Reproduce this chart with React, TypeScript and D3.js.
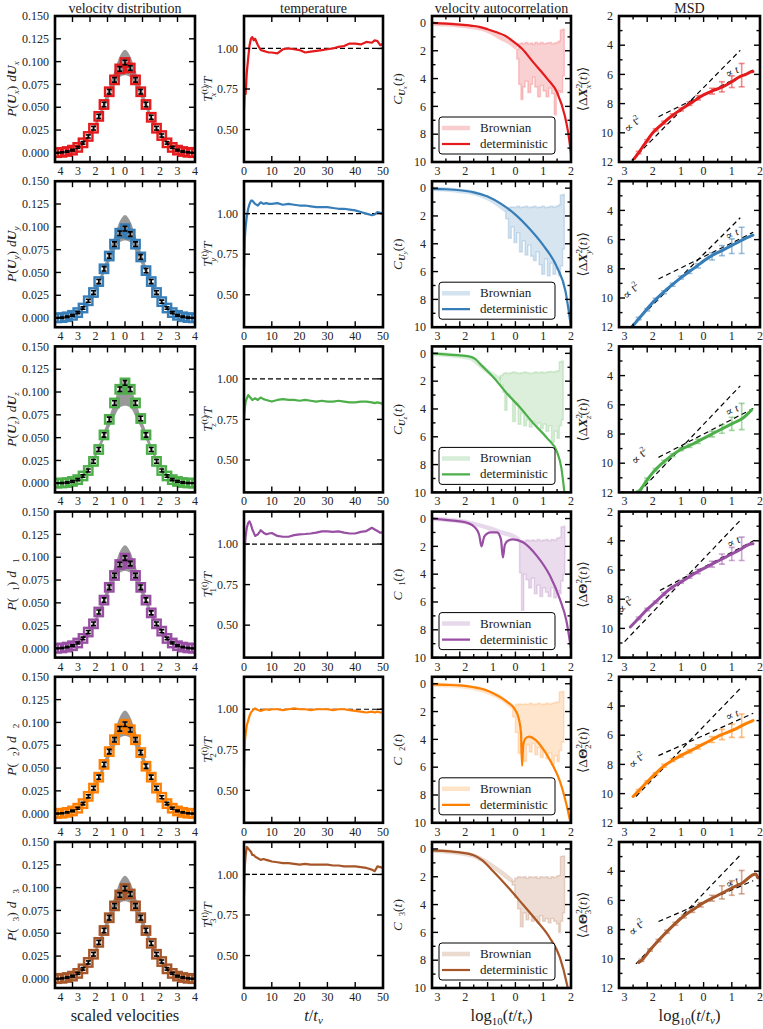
import React from "react";
import * as d3 from "d3";

const FONT = "'Liberation Serif', 'DejaVu Serif', serif";
const COLORS = ["#e41a1c", "#377eb8", "#4daf4a", "#984ea3", "#ff7f00", "#a65628"];
const ROW_KEYS = ["x", "y", "z", "1", "2", "3"];

// ---------- velocity distribution ----------
const velX = [-3.9, -3.6, -3.3, -3.0, -2.7, -2.4, -2.1, -1.8, -1.5, -1.2, -0.9, -0.6, -0.3, 0, 0.3, 0.6, 0.9, 1.2, 1.5, 1.8, 2.1, 2.4, 2.7, 3.0, 3.3, 3.6, 3.9];
const velA = [0.0002, 0.0006, 0.0015, 0.003, 0.006, 0.011, 0.018, 0.027, 0.040, 0.053, 0.067, 0.080, 0.092, 0.099, 0.093, 0.080, 0.067, 0.053, 0.039, 0.027, 0.019, 0.011, 0.006, 0.003, 0.0015, 0.0006, 0.0002];
const velB = [0.0002, 0.0005, 0.0014, 0.003, 0.006, 0.011, 0.019, 0.028, 0.040, 0.054, 0.068, 0.081, 0.093, 0.098, 0.092, 0.081, 0.067, 0.052, 0.040, 0.028, 0.018, 0.011, 0.006, 0.003, 0.0014, 0.0005, 0.0002];
const velGreen = [0.0001, 0.0003, 0.0008, 0.002, 0.004, 0.008, 0.014, 0.024, 0.037, 0.053, 0.070, 0.088, 0.103, 0.110, 0.103, 0.088, 0.071, 0.053, 0.037, 0.024, 0.014, 0.008, 0.004, 0.002, 0.0008, 0.0003, 0.0001];
const velErr = [0.0004, 0.0005, 0.0007, 0.0009, 0.0011, 0.0014, 0.0017, 0.002, 0.0022, 0.0024, 0.0025, 0.0025, 0.0025, 0.0025, 0.0025, 0.0025, 0.0025, 0.0024, 0.0022, 0.002, 0.0017, 0.0014, 0.0011, 0.0009, 0.0007, 0.0005, 0.0004];
const bandX = [-4, -3, -2.4, -2.1, -1.8, -1.5, -1.2, -0.9, -0.6, -0.3, 0, 0.3, 0.6, 0.9, 1.2, 1.5, 1.8, 2.1, 2.4, 3, 4];
const bandHi = [0.0002, 0.003, 0.011, 0.019, 0.029, 0.042, 0.057, 0.073, 0.09, 0.106, 0.113, 0.106, 0.09, 0.073, 0.057, 0.042, 0.029, 0.019, 0.011, 0.003, 0.0002];
const bandLo = [0.0001, 0.002, 0.009, 0.016, 0.024, 0.035, 0.048, 0.061, 0.073, 0.083, 0.085, 0.083, 0.073, 0.061, 0.048, 0.035, 0.024, 0.016, 0.009, 0.002, 0.0001];

// ---------- temperature ----------
const tempT = [0, 0.3, 0.6, 1, 1.5, 2, 2.5, 3, 3.5, 4, 5, 6, 7, 8, 9, 10, 12, 14, 16, 18, 20, 22, 24, 26, 28, 30, 32, 34, 36, 38, 40, 42, 44, 46, 47, 48, 49, 50];
const tempRed = [0.62, 0.76, 0.72, 0.85, 0.94, 1.02, 1.06, 1.07, 1.05, 1.06, 1.02, 0.99, 0.985, 0.98, 0.975, 0.975, 0.97, 0.995, 1.0, 0.995, 0.99, 0.975, 0.98, 0.985, 0.99, 0.995, 1.0, 1.01, 1.015, 1.03, 1.03, 1.025, 1.04, 1.035, 1.05, 1.045, 1.02, 1.03];
const tempBlue = [0.65, 0.85, 0.92, 0.98, 1.03, 1.06, 1.08, 1.08, 1.07, 1.06, 1.05, 1.07, 1.06, 1.065, 1.06, 1.06, 1.065, 1.055, 1.06, 1.055, 1.05, 1.05, 1.045, 1.04, 1.04, 1.04, 1.035, 1.03, 1.03, 1.025, 1.02, 1.01, 1.0, 0.99, 0.995, 1.01, 1.005, 1.0];
const tempGreen = [0.75, 0.82, 0.86, 0.88, 0.9, 0.89, 0.88, 0.87, 0.875, 0.88, 0.87, 0.885, 0.875, 0.87, 0.865, 0.86, 0.87, 0.875, 0.87, 0.87, 0.865, 0.87, 0.865, 0.86, 0.865, 0.86, 0.86, 0.865, 0.86, 0.855, 0.855, 0.86, 0.86, 0.855, 0.85, 0.855, 0.85, 0.845];
const tempPurple = [0.52, 0.98, 1.05, 1.1, 1.13, 1.14, 1.12, 1.09, 1.07, 1.05, 1.06, 1.085, 1.07, 1.06, 1.065, 1.068, 1.05, 1.045, 1.045, 1.055, 1.06, 1.062, 1.065, 1.07, 1.078, 1.078, 1.075, 1.078, 1.07, 1.065, 1.065, 1.075, 1.08, 1.1, 1.09, 1.08, 1.07, 1.07];
const tempOrange = [0.62, 0.8, 0.85, 0.9, 0.93, 0.96, 0.98, 0.99, 1.0, 1.005, 0.995, 0.99, 0.995, 1.0, 0.995, 1.0, 1.0, 0.995, 1.0, 1.005, 1.0, 1.0, 0.995, 1.0, 1.0, 1.0, 0.995, 1.0, 1.0, 0.995, 0.99, 0.985, 0.98, 0.985, 0.98, 0.985, 0.98, 0.98];
const tempBrown = [0.86, 1.05, 1.12, 1.17, 1.16, 1.15, 1.14, 1.12, 1.12, 1.11, 1.1, 1.09, 1.095, 1.09, 1.085, 1.08, 1.075, 1.07, 1.07, 1.065, 1.06, 1.065, 1.06, 1.06, 1.06, 1.06, 1.055, 1.055, 1.05, 1.05, 1.05, 1.045, 1.04, 1.03, 1.02, 1.05, 1.045, 1.04];

// ---------- velocity autocorrelation  [log10 t, depth] ----------
const acDetRed = [[-3, 0], [-2.5, 0.05], [-2, 0.12], [-1.5, 0.22], [-1.27, 0.3], [-1, 0.45], [-0.7, 0.65], [-0.37, 0.92], [0, 1.45], [0.24, 1.86], [0.63, 2.8], [1.14, 4.0], [1.5, 5.0], [1.78, 6.7], [1.9, 7.9], [2.0, 9.4]];
const acDetBlue = [[-3, 0.05], [-2.5, 0.08], [-2, 0.15], [-1.5, 0.3], [-1, 0.6], [-0.5, 1.15], [0, 1.9], [0.5, 2.9], [1, 4.1], [1.5, 5.7], [1.8, 7.4], [2.0, 10]];
const acDetGreen = [[-3, 0], [-2.5, 0.08], [-2, 0.15], [-1.6, 0.25], [-1.45, 0.4], [-1.2, 0.9], [-0.8, 1.7], [-0.3, 2.9], [0.17, 3.9], [0.63, 5.0], [1.14, 6.1], [1.5, 7.1], [1.65, 8.2], [1.78, 10.3]];
const acDetPurple = [[-3, 0], [-2.5, 0.1], [-2, 0.2], [-1.74, 0.3], [-1.45, 0.65], [-1.3, 1.2], [-1.22, 2.0], [-1.12, 1.3], [-0.9, 1.0], [-0.66, 1.0], [-0.52, 1.5], [-0.45, 2.8], [-0.38, 1.9], [-0.27, 1.6], [-0.09, 1.5], [0.27, 1.7], [0.78, 2.7], [1.24, 4.1], [1.6, 5.8], [1.84, 7.4], [2.0, 9.4]];
const acDetOrange = [[-3, 0.05], [-2.5, 0.08], [-2, 0.12], [-1.5, 0.25], [-1, 0.5], [-0.6, 0.9], [-0.3, 1.3], [0, 1.9], [0.12, 2.5], [0.2, 3.5], [0.24, 5.9], [0.28, 4.4], [0.38, 3.9], [0.5, 3.8], [0.7, 4.0], [1.0, 4.7], [1.3, 5.7], [1.6, 7.0], [1.85, 8.8], [2.0, 10.2]];
const acDetBrown = [[-3, 0.1], [-2.5, 0.15], [-2, 0.25], [-1.5, 0.45], [-1.2, 0.8], [-0.8, 1.6], [-0.2, 2.9], [0.27, 4.0], [0.78, 5.2], [1.24, 6.4], [1.6, 7.8], [1.84, 9.6], [1.92, 10.4]];

const acBrRed = [[-3, 0.05], [-2.5, 0.1], [-2, 0.18], [-1.5, 0.3], [-1, 0.55], [-0.5, 1.1], [-0.2, 1.4], [0.05, 1.8]];
const acBrBlue = [[-3, 0.05], [-2.5, 0.1], [-2, 0.2], [-1.5, 0.35], [-1, 0.7], [-0.6, 1.2], [-0.35, 1.6]];
const acBrGreen = [[-3, 0.05], [-2.5, 0.1], [-2, 0.2], [-1.6, 0.35], [-1.3, 0.8], [-1, 1.3], [-0.7, 1.7], [-0.55, 1.9]];
const acBrPurple = [[-3, 0.02], [-2.5, 0.08], [-2, 0.17], [-1.5, 0.38], [-1, 0.65], [-0.5, 1.0], [0, 1.35], [0.15, 1.6]];
const acBrOrange = [[-3, 0.05], [-2.5, 0.1], [-2, 0.16], [-1.5, 0.3], [-1, 0.58], [-0.5, 1.05], [-0.1, 1.7]];
const acBrBrown = [[-3, 0.12], [-2.5, 0.18], [-2, 0.3], [-1.5, 0.5], [-1, 1.0], [-0.5, 1.7], [-0.12, 2.3]];

// noisy Brownian region: [log10 t, top, bottom]
const acNzRed = [[0.05, 1.9, 2.6], [0.12, 1.5, 4.4], [0.2, 1.45, 5.5], [0.27, 1.5, 4.6], [0.35, 1.4, 4.2], [0.45, 1.5, 5.0], [0.55, 1.45, 4.4], [0.62, 1.55, 3.9], [0.7, 1.4, 4.6], [0.8, 1.5, 5.3], [0.9, 1.4, 4.5], [1.0, 1.5, 4.9], [1.1, 1.45, 5.3], [1.2, 1.4, 4.7], [1.3, 1.5, 5.1], [1.4, 1.45, 6.6], [1.47, 1.4, 5.2], [1.55, 1.3, 4.9], [1.62, 0.5, 5.0], [1.7, 0.45, 3.8], [1.76, 0.45, 3.8]];
const acNzBlue = [[-0.35, 1.6, 2.2], [-0.25, 1.4, 3.6], [-0.15, 1.35, 2.8], [-0.05, 1.4, 3.9], [0.05, 1.3, 3.2], [0.15, 1.4, 4.6], [0.25, 1.35, 3.8], [0.35, 1.3, 4.8], [0.45, 1.4, 4.1], [0.55, 1.35, 4.9], [0.65, 1.3, 5.2], [0.75, 1.4, 4.6], [0.85, 1.35, 5.5], [0.95, 1.3, 6.2], [1.05, 1.4, 5.1], [1.15, 1.35, 6.3], [1.25, 1.3, 5.4], [1.35, 1.35, 6.2], [1.45, 1.3, 5.8], [1.55, 1.2, 6.3], [1.62, 0.5, 5.6], [1.7, 0.45, 4.4], [1.76, 0.45, 4.4]];
const acNzGreen = [[-0.55, 1.6, 2.3], [-0.45, 1.45, 2.8], [-0.38, 1.4, 4.1], [-0.3, 1.45, 2.9], [-0.2, 1.4, 3.2], [-0.1, 1.35, 4.9], [0.0, 1.4, 3.6], [0.1, 1.45, 5.1], [0.2, 1.4, 4.3], [0.3, 1.35, 5.2], [0.4, 1.4, 4.8], [0.5, 1.45, 5.3], [0.6, 1.4, 4.9], [0.7, 1.35, 5.2], [0.8, 1.4, 5.0], [0.9, 1.35, 5.4], [1.0, 1.4, 5.1], [1.1, 1.35, 5.6], [1.2, 1.3, 5.2], [1.3, 1.35, 6.4], [1.4, 1.3, 5.6], [1.5, 1.25, 6.1], [1.58, 0.6, 5.2], [1.66, 0.55, 4.8], [1.72, 0.55, 4.8]];
const acNzPurple = [[0.15, 1.7, 3.9], [0.22, 1.6, 6.6], [0.3, 1.65, 4.0], [0.38, 1.55, 4.4], [0.48, 1.6, 5.0], [0.58, 1.55, 4.3], [0.68, 1.6, 5.4], [0.78, 1.5, 4.8], [0.88, 1.6, 5.6], [0.98, 1.55, 5.0], [1.08, 1.5, 5.3], [1.18, 1.6, 5.6], [1.28, 1.5, 5.0], [1.38, 1.55, 5.7], [1.48, 1.4, 5.2], [1.58, 1.35, 5.4], [1.64, 0.6, 4.5], [1.72, 0.55, 4.0], [1.78, 0.55, 4.0]];
const acNzOrange = [[-0.1, 1.7, 2.4], [0.0, 1.5, 3.5], [0.1, 1.45, 5.0], [0.2, 1.5, 4.2], [0.3, 1.45, 5.6], [0.4, 1.5, 4.4], [0.5, 1.4, 4.9], [0.6, 1.5, 4.3], [0.7, 1.45, 5.1], [0.8, 1.4, 4.6], [0.9, 1.5, 5.3], [1.0, 1.45, 4.8], [1.1, 1.4, 5.4], [1.2, 1.45, 5.0], [1.3, 1.4, 5.8], [1.4, 1.35, 5.2], [1.5, 1.3, 5.6], [1.58, 0.6, 4.8], [1.66, 0.55, 4.2], [1.74, 0.55, 4.2]];
const acNzBrown = [[-0.12, 2.3, 2.6], [-0.02, 2.1, 3.5], [0.08, 2.0, 4.3], [0.18, 2.05, 5.6], [0.28, 2.0, 4.6], [0.38, 2.1, 5.1], [0.48, 2.0, 4.7], [0.58, 2.05, 5.2], [0.68, 2.0, 4.9], [0.78, 2.1, 5.3], [0.88, 2.0, 4.8], [0.98, 2.05, 5.2], [1.08, 2.0, 5.0], [1.18, 2.1, 5.3], [1.28, 2.0, 5.0], [1.38, 2.05, 5.2], [1.48, 1.95, 5.4], [1.56, 1.9, 6.0], [1.62, 0.55, 5.2], [1.7, 0.5, 4.6], [1.77, 0.5, 4.6]];

// ---------- MSD  [log10 t, depth] ----------
const msdRed = [[-2.45, 11.75], [-2.3, 11.35], [-2.1, 10.8], [-1.8, 10.0], [-1.5, 9.45], [-1.2, 8.95], [-0.84, 8.45], [-0.4, 7.9], [0, 7.4], [0.35, 7.1], [0.69, 6.84], [1.0, 6.5], [1.29, 6.15], [1.5, 6.0], [1.65, 5.85], [1.75, 5.8]];
const msdBlue = [[-2.55, 12.0], [-2.2, 11.2], [-1.8, 10.3], [-1.3, 9.4], [-0.8, 8.6], [-0.3, 7.9], [0.2, 7.2], [0.7, 6.7], [1.2, 6.2], [1.5, 5.9], [1.75, 5.7]];
const msdGreen = [[-2.35, 12.0], [-2.26, 11.85], [-1.95, 11.0], [-1.66, 10.35], [-1.25, 9.65], [-0.84, 9.1], [-0.4, 8.7], [0, 8.3], [0.35, 7.95], [0.7, 7.6], [1.05, 7.25], [1.4, 6.9], [1.6, 6.55], [1.7, 6.35]];
const msdPurple = [[-2.6, 9.9], [-2.3, 9.3], [-2.0, 8.7], [-1.6, 8.0], [-1.2, 7.3], [-0.7, 6.7], [-0.2, 6.1], [0.3, 5.6], [0.8, 5.1], [1.3, 4.6], [1.6, 4.25], [1.75, 4.2]];
const msdOrange = [[-2.5, 10.2], [-2.2, 9.6], [-1.8, 8.8], [-1.4, 8.1], [-0.9, 7.5], [-0.4, 7.0], [0.1, 6.5], [0.6, 6.0], [1.1, 5.6], [1.5, 5.2], [1.75, 5.0]];
const msdBrown = [[-2.3, 10.25], [-2.2, 10.1], [-1.9, 9.4], [-1.6, 8.75], [-1.3, 8.14], [-0.72, 7.1], [-0.35, 6.6], [0, 6.16], [0.35, 5.8], [0.7, 5.46], [1.05, 5.1], [1.4, 4.77], [1.7, 4.3], [1.85, 4.2], [1.92, 4.45]];

// error bars [log10 t, depth, half width]
const msdErrRed = [[-2.3, 11.35, 0.08], [-2.0, 10.55, 0.08], [-1.7, 9.8, 0.08], [-1.4, 9.3, 0.1], [-1.1, 8.8, 0.1], [-0.8, 8.4, 0.1], [-0.5, 8.0, 0.12], [-0.2, 7.6, 0.15], [0.3, 7.15, 0.2], [0.65, 6.85, 0.35], [1.0, 6.5, 0.4], [1.35, 6.05, 0.8]];
const msdErrBlue = [[-2.3, 11.4, 0.08], [-2.0, 10.8, 0.08], [-1.7, 10.1, 0.08], [-1.4, 9.6, 0.1], [-1.1, 9.1, 0.1], [-0.8, 8.6, 0.1], [-0.5, 8.2, 0.12], [-0.2, 7.8, 0.15], [0.3, 7.15, 0.25], [0.65, 6.75, 0.35], [1.0, 6.45, 0.5], [1.35, 6.05, 0.9]];
const msdErrGreen = [[-2.3, 11.95, 0.08], [-2.0, 11.1, 0.08], [-1.7, 10.45, 0.08], [-1.4, 9.9, 0.1], [-1.1, 9.45, 0.1], [-0.8, 9.05, 0.1], [-0.5, 8.8, 0.12], [-0.2, 8.5, 0.15], [0.3, 8.0, 0.2], [0.65, 7.65, 0.3], [1.0, 7.3, 0.45], [1.35, 6.8, 0.9]];
const msdErrPurple = [[-2.3, 9.3, 0.08], [-2.0, 8.7, 0.08], [-1.7, 8.2, 0.08], [-1.4, 7.65, 0.1], [-1.1, 7.2, 0.1], [-0.8, 6.8, 0.1], [-0.5, 6.45, 0.12], [-0.2, 6.1, 0.15], [0.3, 5.6, 0.2], [0.65, 5.25, 0.35], [1.0, 4.9, 0.45], [1.35, 4.55, 0.8]];
const msdErrOrange = [[-2.3, 9.8, 0.08], [-2.0, 9.2, 0.08], [-1.7, 8.65, 0.08], [-1.4, 8.1, 0.1], [-1.1, 7.7, 0.1], [-0.8, 7.4, 0.1], [-0.5, 7.1, 0.12], [-0.2, 6.8, 0.15], [0.3, 6.3, 0.2], [0.65, 5.95, 0.35], [1.0, 5.7, 0.45], [1.35, 5.35, 0.8]];
const msdErrBrown = [[-2.2, 10.1, 0.08], [-1.9, 9.4, 0.08], [-1.6, 8.75, 0.08], [-1.3, 8.14, 0.1], [-1.0, 7.6, 0.1], [-0.7, 7.1, 0.1], [-0.4, 6.7, 0.12], [-0.1, 6.3, 0.15], [0.3, 5.85, 0.2], [0.65, 5.45, 0.45], [1.0, 5.15, 0.5], [1.35, 4.75, 0.8]];

// reference slopes: [[x0, v0], [x1, v1]]
const lineT2 = [
  [[-2.55, 11.9], [1.3, 4.35]],
  [[-2.6, 12.0], [1.3, 4.5]],
  [[-2.3, 12.0], [1.3, 4.7]],
  [[-2.8, 10.9], [1.3, 2.6]],
  [[-2.4, 10.2], [1.3, 2.8]],
  [[-2.4, 10.35], [1.3, 2.9]],
];
const lineT1 = [
  [[-1.6, 8.9], [1.76, 5.7]],
  [[-1.6, 8.7], [1.76, 5.5]],
  [[-1.6, 9.6], [1.76, 6.25]],
  [[-1.55, 7.4], [1.82, 3.95]],
  [[-1.6, 7.4], [1.76, 4.5]],
  [[-1.6, 7.45], [1.76, 4.65]],
];

// ---------- layout ----------
const colLeft = [55, 244, 432, 619];
const colWidth = [140, 139, 139, 141];
const TOP0 = 16;
const ROW_STEP = 165.2;
const PH = 146;

const rows = [
  { vel: velA, temp: tempRed, det: acDetRed, br: acBrRed, nz: acNzRed, msd: msdRed, err: msdErrRed },
  { vel: velB, temp: tempBlue, det: acDetBlue, br: acBrBlue, nz: acNzBlue, msd: msdBlue, err: msdErrBlue },
  { vel: velGreen, temp: tempGreen, det: acDetGreen, br: acBrGreen, nz: acNzGreen, msd: msdGreen, err: msdErrGreen },
  { vel: velA, temp: tempPurple, det: acDetPurple, br: acBrPurple, nz: acNzPurple, msd: msdPurple, err: msdErrPurple },
  { vel: velB, temp: tempOrange, det: acDetOrange, br: acBrOrange, nz: acNzOrange, msd: msdOrange, err: msdErrOrange },
  { vel: velA, temp: tempBrown, det: acDetBrown, br: acBrBrown, nz: acNzBrown, msd: msdBrown, err: msdErrBrown },
];

type Axis = { ticks: number[]; minor?: number[]; fmt: (v: number) => string; shiftNeg?: boolean };

function Frame({ id, w, h, xs, ys, xAx, yAx, children }: any) {
  const maj = 6, mn = 3.5;
  const tk: any[] = [];
  const addX = (v: number, len: number, k: string) => {
    const X = xs(v);
    tk.push(<line key={k + "b"} x1={X} x2={X} y1={h} y2={h - len} />);
    tk.push(<line key={k + "t"} x1={X} x2={X} y1={0} y2={len} />);
  };
  const addY = (v: number, len: number, k: string) => {
    const Y = ys(v);
    tk.push(<line key={k + "l"} x1={0} x2={len} y1={Y} y2={Y} />);
    tk.push(<line key={k + "r"} x1={w} x2={w - len} y1={Y} y2={Y} />);
  };
  xAx.ticks.forEach((v: number, i: number) => addX(v, maj, "xM" + i));
  (xAx.minor || []).forEach((v: number, i: number) => addX(v, mn, "xm" + i));
  yAx.ticks.forEach((v: number, i: number) => addY(v, maj, "yM" + i));
  (yAx.minor || []).forEach((v: number, i: number) => addY(v, mn, "ym" + i));
  return (
    <g>
      <defs>
        <clipPath id={id}>
          <rect x={0} y={0} width={w} height={h} />
        </clipPath>
      </defs>
      <g clipPath={`url(#${id})`}>{children}</g>
      <g stroke="#000" strokeWidth={1.4}>{tk}</g>
      <rect x={0} y={0} width={w} height={h} fill="none" stroke="#000" strokeWidth={2.6} />
      <g fontFamily={FONT} fontSize={12} fill="#222">
        {xAx.ticks.map((v: number, i: number) => (
          <text key={"xl" + i} x={xs(v) + (xAx.shiftNeg && v < 0 ? 5.5 : 0)} y={h + 13} textAnchor="middle">
            {xAx.fmt(v)}
          </text>
        ))}
        {yAx.ticks.map((v: number, i: number) => (
          <text key={"yl" + i} x={-6} y={ys(v)} dy="0.35em" textAnchor="end">
            {yAx.fmt(v)}
          </text>
        ))}
      </g>
    </g>
  );
}

const absFmt = (v: number) => String(Math.abs(v));
const velXAx: Axis = { ticks: [-4, -3, -2, -1, 0, 1, 2, 3, 4], fmt: absFmt, shiftNeg: true };
const velYAx: Axis = { ticks: [0, 0.025, 0.05, 0.075, 0.1, 0.125, 0.15], fmt: d3.format(".3f") };
const tempXAx: Axis = { ticks: [0, 10, 20, 30, 40, 50], fmt: (v) => String(v) };
const tempYAx: Axis = { ticks: [0.5, 0.75, 1.0], fmt: d3.format(".2f") };
const logXAx: Axis = { ticks: [-3, -2, -1, 0, 1, 2], minor: [-2.5, -1.5, -0.5, 0.5, 1.5], fmt: absFmt, shiftNeg: true };
const acYAx: Axis = { ticks: [0, 2, 4, 6, 8, 10], minor: [1, 3, 5, 7, 9], fmt: absFmt };
const msdYAx: Axis = { ticks: [2, 4, 6, 8, 10, 12], minor: [3, 5, 7, 9, 11], fmt: absFmt };

// ---------- axis labels ----------
function VelLabel({ i }: { i: number }) {
  const k = ROW_KEYS[i];
  if (i < 3)
    return (
      <>
        <tspan fontStyle="italic">P</tspan>
        <tspan>(</tspan>
        <tspan fontStyle="italic" fontWeight="bold">U</tspan>
        <tspan dy={3} fontSize={9} fontStyle="italic">{k}</tspan>
        <tspan dy={-3}>)</tspan>
        <tspan dx={4} fontStyle="italic">d</tspan>
        <tspan fontStyle="italic" fontWeight="bold">U</tspan>
        <tspan dy={3} fontSize={9} fontStyle="italic">{k}</tspan>
      </>
    );
  return (
    <>
      <tspan fontStyle="italic">P</tspan>
      <tspan>(</tspan>
      <tspan dx={7} dy={3} fontSize={9}>{k}</tspan>
      <tspan dy={-3}>)</tspan>
      <tspan dx={4} fontStyle="italic">d</tspan>
      <tspan dx={8} dy={3} fontSize={9}>{k}</tspan>
    </>
  );
}

function TempLabel({ i }: { i: number }) {
  const k = ROW_KEYS[i];
  return (
    <>
      <tspan fontStyle="italic">T</tspan>
      <tspan dy={-5} fontSize={9}>(t)</tspan>
      <tspan dx={-11} dy={9} fontSize={9} fontStyle={i < 3 ? "italic" : "normal"}>{k}</tspan>
      <tspan dx={5} dy={-4}>/</tspan>
      <tspan fontStyle="italic">T</tspan>
    </>
  );
}

function AcLabel({ i }: { i: number }) {
  const k = ROW_KEYS[i];
  if (i < 3)
    return (
      <>
        <tspan fontStyle="italic">C</tspan>
        <tspan dy={3} fontSize={9} fontStyle="italic" fontWeight="bold">U</tspan>
        <tspan dy={2} fontSize={7} fontStyle="italic">{k}</tspan>
        <tspan dy={-5}>(</tspan>
        <tspan fontStyle="italic">t</tspan>
        <tspan>)</tspan>
      </>
    );
  return (
    <>
      <tspan fontStyle="italic">C</tspan>
      <tspan dx={6} dy={3} fontSize={8}>{k}</tspan>
      <tspan dy={-3}>(</tspan>
      <tspan fontStyle="italic">t</tspan>
      <tspan>)</tspan>
    </>
  );
}

function MsdLabel({ i }: { i: number }) {
  const k = ROW_KEYS[i];
  return (
    <>
      <tspan>⟨Δ</tspan>
      <tspan fontWeight="bold" fontStyle={i < 3 ? "italic" : "normal"}>{i < 3 ? "X" : "Θ"}</tspan>
      <tspan dy={-5} fontSize={9}>2</tspan>
      <tspan dx={-5} dy={9} fontSize={9} fontStyle={i < 3 ? "italic" : "normal"}>{k}</tspan>
      <tspan dy={-4}>(</tspan>
      <tspan fontStyle="italic">t</tspan>
      <tspan>)⟩</tspan>
    </>
  );
}

function YLabel({ x, h, children }: any) {
  return (
    <text transform={`translate(${x},${h / 2}) rotate(-90)`} textAnchor="middle" fontFamily={FONT} fontSize={13.5} fill="#222">
      {children}
    </text>
  );
}

export default function App() {
  const W = 763, H = 1029;
  const panels: any[] = [];

  rows.forEach((r, i) => {
    const color = COLORS[i];
    const top = TOP0 + i * ROW_STEP;

    // ----- col 1: velocity distribution -----
    {
      const w = colWidth[0];
      const xs = d3.scaleLinear().domain([-4, 4]).range([0, w]);
      const ys = d3.scaleLinear().domain([-0.01, 0.15]).range([PH, 0]);
      const band = d3
        .area<number>()
        .x((_, k) => xs(bandX[k]))
        .y0((_, k) => ys(bandLo[k]))
        .y1((_, k) => ys(bandHi[k]))
        .curve(d3.curveMonotoneX)(bandX);
      panels.push(
        <g key={"v" + i} transform={`translate(${colLeft[0]},${top})`}>
          <Frame id={"cv" + i} w={w} h={PH} xs={xs} ys={ys} xAx={velXAx} yAx={velYAx}>
            <path d={band || ""} fill="#999999" />
            {velX.map((x, k) => (
              <rect key={k} x={xs(x) - 4.2} y={ys(r.vel[k]) - 4.2} width={8.4} height={8.4} fill="none" stroke={color} strokeWidth={2.4} />
            ))}
            <g stroke="#000" strokeWidth={1.6}>
              {velX.map((x, k) => {
                const X = xs(x), y0 = ys(r.vel[k] - velErr[k]), y1 = ys(r.vel[k] + velErr[k]);
                return (
                  <g key={k}>
                    <line x1={X} x2={X} y1={y0} y2={y1} />
                    <line x1={X - 2.5} x2={X + 2.5} y1={y0} y2={y0} />
                    <line x1={X - 2.5} x2={X + 2.5} y1={y1} y2={y1} />
                  </g>
                );
              })}
            </g>
          </Frame>
          <YLabel x={-39} h={PH}>
            <VelLabel i={i} />
          </YLabel>
        </g>
      );
    }

    // ----- col 2: temperature -----
    {
      const w = colWidth[1];
      const xs = d3.scaleLinear().domain([0, 50]).range([0, w]);
      const ys = d3.scaleLinear().domain([0.3, 1.2]).range([PH, 0]);
      const line = d3
        .line<number>()
        .x((_, k) => xs(tempT[k]))
        .y((v) => ys(v))(r.temp);
      panels.push(
        <g key={"t" + i} transform={`translate(${colLeft[1]},${top})`}>
          <Frame id={"ct" + i} w={w} h={PH} xs={xs} ys={ys} xAx={tempXAx} yAx={tempYAx}>
            <line x1={xs(0)} x2={xs(50)} y1={ys(1)} y2={ys(1)} stroke="#000" strokeWidth={1.2} strokeDasharray="5,3" />
            <path d={line || ""} fill="none" stroke={color} strokeWidth={2.2} strokeLinejoin="round" />
          </Frame>
          <YLabel x={-32} h={PH}>
            <TempLabel i={i} />
          </YLabel>
        </g>
      );
    }

    // ----- col 3: velocity autocorrelation -----
    {
      const w = colWidth[2];
      const xs = d3.scaleLinear().domain([-3, 2]).range([0, w]);
      const ys = d3.scaleLinear().domain([-0.5, 10]).range([0, PH]);
      const ln = d3
        .line<number[]>()
        .x((d) => xs(d[0]))
        .y((d) => ys(d[1]))
        .curve(d3.curveMonotoneX);
      const nz = d3
        .area<number[]>()
        .x((d) => xs(d[0]))
        .y0((d) => ys(d[2]))
        .y1((d) => ys(d[1]))
        .curve(d3.curveStepAfter)(r.nz);
      panels.push(
        <g key={"a" + i} transform={`translate(${colLeft[2]},${top})`}>
          <Frame id={"ca" + i} w={w} h={PH} xs={xs} ys={ys} xAx={logXAx} yAx={acYAx}>
            <path d={ln(r.br) || ""} fill="none" stroke={color} strokeOpacity={0.22} strokeWidth={4.5} />
            <path d={nz || ""} fill={color} fillOpacity={0.2} stroke={color} strokeOpacity={0.2} strokeWidth={1.5} />
            <path d={ln(r.det) || ""} fill="none" stroke={color} strokeWidth={2.2} />
            <g transform="translate(7,101)">
              <rect x={0} y={0} width={116} height={37} rx={3} fill="#fff" stroke="#000" strokeWidth={1} />
              <line x1={3} x2={31} y1={11} y2={11} stroke={color} strokeOpacity={0.22} strokeWidth={4.5} />
              <line x1={3} x2={31} y1={27} y2={27} stroke={color} strokeWidth={2.2} />
              <text x={41} y={15} fontFamily={FONT} fontSize={13} fill="#222">Brownian</text>
              <text x={41} y={31} fontFamily={FONT} fontSize={13} fill="#222">deterministic</text>
            </g>
          </Frame>
          <YLabel x={-30} h={PH}>
            <AcLabel i={i} />
          </YLabel>
        </g>
      );
    }

    // ----- col 4: MSD -----
    {
      const w = colWidth[3];
      const xs = d3.scaleLinear().domain([-3, 2]).range([0, w]);
      const ys = d3.scaleLinear().domain([2, 12]).range([0, PH]);
      const ln = d3
        .line<number[]>()
        .x((d) => xs(d[0]))
        .y((d) => ys(d[1]))
        .curve(d3.curveMonotoneX);
      const t2 = lineT2[i], t1 = lineT1[i];
      const t2a = (Math.atan2(ys(t2[1][1]) - ys(t2[0][1]), xs(t2[1][0]) - xs(t2[0][0])) * 180) / Math.PI;
      const t1a = (Math.atan2(ys(t1[1][1]) - ys(t1[0][1]), xs(t1[1][0]) - xs(t1[0][0])) * 180) / Math.PI;
      panels.push(
        <g key={"m" + i} transform={`translate(${colLeft[3]},${top})`}>
          <Frame id={"cm" + i} w={w} h={PH} xs={xs} ys={ys} xAx={logXAx} yAx={msdYAx}>
            <g stroke="#000" strokeWidth={1.2} strokeDasharray="5,3.5">
              <line x1={xs(t2[0][0])} y1={ys(t2[0][1])} x2={xs(t2[1][0])} y2={ys(t2[1][1])} />
              <line x1={xs(t1[0][0])} y1={ys(t1[0][1])} x2={xs(t1[1][0])} y2={ys(t1[1][1])} />
            </g>
            <text
              transform={`translate(${xs(t2[0][0] + 0.12)},${ys(t2[0][1] - 2.3)}) rotate(${t2a})`}
              fontFamily={FONT} fontSize={12} fill="#222" textAnchor="middle"
            >
              ∝ <tspan fontStyle="italic">t</tspan><tspan dy={-4} fontSize={8}>2</tspan>
            </text>
            <text
              transform={`translate(${xs(t1[1][0] - 0.7)},${ys(t1[1][1] + 0.35)}) rotate(${t1a})`}
              fontFamily={FONT} fontSize={11} fill="#222" textAnchor="middle"
            >
              ∝ <tspan fontStyle="italic">t</tspan>
            </text>
            <g stroke={color} strokeOpacity={0.5} strokeWidth={1.6}>
              {r.err.map((d, k) => {
                const X = xs(d[0]), y0 = ys(d[1] - d[2]), y1 = ys(d[1] + d[2]);
                return (
                  <g key={k}>
                    <line x1={X} x2={X} y1={y0} y2={y1} />
                    <line x1={X - 3} x2={X + 3} y1={y0} y2={y0} />
                    <line x1={X - 3} x2={X + 3} y1={y1} y2={y1} />
                  </g>
                );
              })}
            </g>
            <path d={ln(r.msd) || ""} fill="none" stroke={color} strokeWidth={3} strokeLinecap="round" />
          </Frame>
          <YLabel x={-32} h={PH}>
            <MsdLabel i={i} />
          </YLabel>
        </g>
      );
    }
  });

  const titles = ["velocity distribution", "temperature", "velocity autocorrelation", "MSD"];
  const bottomY = TOP0 + 5 * ROW_STEP + PH;

  return (
    <svg width={W} height={H} viewBox={`0 0 ${W} ${H}`} style={{ position: "absolute", left: 0, top: 0, background: "#fff" }}>
      <rect width={W} height={H} fill="#fff" />
      {titles.map((t, c) => (
        <text key={t} x={colLeft[c] + colWidth[c] / 2} y={12.5} textAnchor="middle" fontFamily={FONT} fontSize={14} fill="#222">
          {t}
        </text>
      ))}
      {panels}
      <g fontFamily={FONT} fontSize={16.5} fill="#222" textAnchor="middle">
        <text x={colLeft[0] + colWidth[0] / 2} y={bottomY + 33}>scaled velocities</text>
        <text x={colLeft[1] + colWidth[1] / 2} y={bottomY + 33}>
          <tspan fontStyle="italic">t</tspan>/<tspan fontStyle="italic">t</tspan>
          <tspan dy={3} fontSize={11} fontStyle="italic">ν</tspan>
        </text>
        {[2, 3].map((c) => (
          <text key={c} x={colLeft[c] + colWidth[c] / 2} y={bottomY + 33}>
            log<tspan dy={4} fontSize={11}>10</tspan>
            <tspan dy={-4}>(</tspan>
            <tspan fontStyle="italic">t</tspan>/<tspan fontStyle="italic">t</tspan>
            <tspan dy={3} fontSize={11} fontStyle="italic">ν</tspan>
            <tspan dy={-3}>)</tspan>
          </text>
        ))}
      </g>
    </svg>
  );
}
